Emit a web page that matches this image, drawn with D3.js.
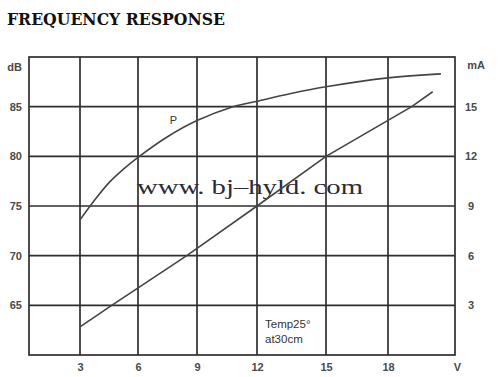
<!DOCTYPE html>
<html>
<head>
<meta charset="utf-8">
<script src="https://cdn.jsdelivr.net/npm/d3@7"></script>
<style>
  body { margin: 0; background: #fff; }
  svg { display: block; }
</style>
</head>
<body>
<div id="container"></div>
<script>
// data
const voltTicks = [3, 6, 9, 12, 15, 18];
const dbTicks = [65, 70, 75, 80, 85];
const maTicks = [3, 6, 9, 12, 15];

// P curve (dB) vs volts
const pVolts = [3, 3.78, 4.55, 5.28, 6, 7.48, 9, 10.8, 12, 13.43, 15, 18, 20.37];
const pDb    = [73.6, 75.65, 77.45, 78.77, 79.9, 81.95, 83.6, 85.0, 85.55, 86.3, 87.0, 87.9, 88.3];

// current (mA) vs volts
const iVolts = [3, 4.64, 8.48, 12, 15, 19.06, 20];
const iMa    = [1.7, 3, 6, 9, 12, 15, 15.9];

const w = 500, h = 377;
const padL = 29, padR = 455, padT = 57, padB = 355;

const svg = d3.select("#container")
  .append("svg")
  .attr("width", w)
  .attr("height", h);

// the printed grid is not evenly spaced, so map each grid volt to where it sits
const x = d3.scaleLinear()
  .domain([0.4, 3, 6, 9, 12, 15, 18, 21])
  .range([padL, 80, 138, 197, 257, 326, 388, padR]);
const yDb = d3.scaleLinear().domain([60, 90]).range([padB, padT]);
const yMa = d3.scaleLinear().domain([0, 18]).range([padB, padT]);

// title
svg.append("text")
  .attr("x", 7)
  .attr("y", 25)
  .attr("textLength", 218)
  .attr("lengthAdjust", "spacingAndGlyphs")
  .style("font-family", "'DejaVu Serif', serif")
  .style("font-weight", "bold")
  .style("font-size", "17px")
  .attr("fill", "#111")
  .text("FREQUENCY RESPONSE");

const grid = svg.append("g")
  .attr("stroke", "#2e2e2e")
  .attr("stroke-width", 1.7);

grid.selectAll("line.v")
  .data(voltTicks)
  .enter()
  .append("line")
  .attr("class", "v")
  .attr("x1", d => x(d)).attr("x2", d => x(d))
  .attr("y1", padT).attr("y2", padB);

grid.selectAll("line.h")
  .data(dbTicks)
  .enter()
  .append("line")
  .attr("class", "h")
  .attr("x1", padL).attr("x2", padR)
  .attr("y1", d => yDb(d)).attr("y2", d => yDb(d));

grid.append("rect")
  .attr("x", padL).attr("y", padT)
  .attr("width", padR - padL).attr("height", padB - padT)
  .attr("fill", "none");

// watermark sits under the curves
svg.append("text")
  .attr("x", 137)
  .attr("y", 194)
  .attr("textLength", 226)
  .attr("lengthAdjust", "spacingAndGlyphs")
  .style("font-family", "'Liberation Serif', serif")
  .style("font-size", "22px")
  .attr("fill", "#2b2b38")
  .text("www. bj\u2013hyld. com");

const lineP = d3.line()
  .x((d, i) => x(pVolts[i]))
  .y(d => yDb(d))
  .curve(d3.curveCatmullRom);

svg.append("path")
  .datum(pDb)
  .attr("d", lineP)
  .attr("fill", "none")
  .attr("stroke", "#444")
  .attr("stroke-width", 1.6);

const lineI = d3.line()
  .x((d, i) => x(iVolts[i]))
  .y(d => yMa(d));

svg.append("path")
  .datum(iMa)
  .attr("d", lineI)
  .attr("fill", "none")
  .attr("stroke", "#444")
  .attr("stroke-width", 1.6);

svg.append("text")
  .attr("x", x(7.8))
  .attr("y", yDb(83.3))
  .style("font-family", "'Liberation Sans', Arial, sans-serif")
  .style("font-size", "11px")
  .attr("fill", "#333")
  .attr("text-anchor", "middle")
  .text("P");

// axes (labels only)
const labelStyle = g => {
  g.select(".domain").remove();
  g.selectAll("text")
    .style("font-family", "'Liberation Sans', Arial, sans-serif")
    .style("font-size", "11px")
    .style("font-weight", "bold")
    .attr("fill", "#4a4a4a");
};

svg.append("g")
  .attr("transform", "translate(" + padL + ",0)")
  .call(d3.axisLeft(yDb).tickValues(dbTicks.concat([90])).tickSize(0).tickPadding(7)
    .tickFormat(d => d === 90 ? "dB" : d))
  .call(labelStyle)
  .selectAll("text")
  .attr("dy", d => d === 90 ? "1.25em" : "0.32em");

svg.append("g")
  .attr("transform", "translate(" + padR + ",0)")
  .call(d3.axisRight(yMa).tickValues(maTicks.concat([18])).tickSize(0)
    .tickFormat(d => d === 18 ? "mA" : d))
  .call(labelStyle)
  .selectAll("text")
  .attr("text-anchor", "middle")
  .attr("x", d => d === 18 ? 21 : 16)
  .attr("dy", d => d === 18 ? "1.0em" : "0.32em");

svg.append("g")
  .attr("transform", "translate(0," + padB + ")")
  .call(d3.axisBottom(x).tickValues(voltTicks.concat([21])).tickSize(0).tickPadding(8)
    .tickFormat(d => d === 21 ? "V" : d))
  .call(labelStyle)
  .selectAll("text")
  .attr("dx", d => d === 21 ? 2 : 0);

// note
const note = svg.append("text")
  .style("font-family", "'Liberation Sans', Arial, sans-serif")
  .style("font-size", "11.5px")
  .attr("fill", "#333");
note.append("tspan").attr("x", 265).attr("y", 328).text("Temp25\u00b0");
note.append("tspan").attr("x", 265).attr("y", 343).text("at30cm");
</script>
</body>
</html>
